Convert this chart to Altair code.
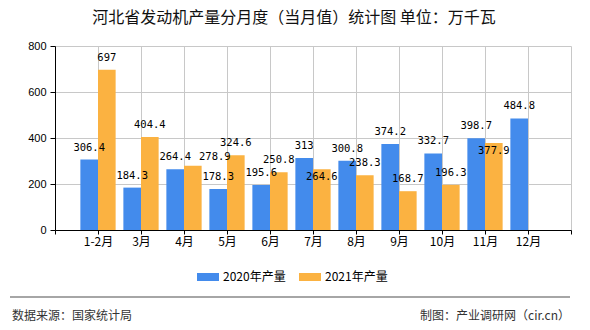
import altair as alt
import pandas as pd

# ---- data ----
months = ["1-2月", "3月", "4月", "5月", "6月", "7月", "8月", "9月", "10月", "11月", "12月"]
series_names = ["2020年产量", "2021年产量"]
v2020 = [306.4, 184.3, 264.4, 178.3, 195.6, 313, 300.8, 374.2, 332.7, 398.7, 484.8]
v2021 = [697, 404.4, 278.9, 324.6, 250.8, 264.6, 238.3, 168.7, 196.3, 377.9, None]
colors = ["#438BEC", "#FBB241"]
y_ticks = [0, 200, 400, 600, 800]

title_text = "河北省发动机产量分月度（当月值）统计图 单位：万千瓦"
source_text = "数据来源：国家统计局"
maker_text = "制图：产业调研网（cir.cn）"

# labels placed differently in the reference (2021 series)
label_below_2021 = ["7月", "11月"]
label_right_2021 = ["4月"]

rows = []
for i, m in enumerate(months):
    rows.append({"month": m, "idx": i + 1, "series": series_names[0], "value": v2020[i]})
    if v2021[i] is not None:
        rows.append({"month": m, "idx": i + 1, "series": series_names[1], "value": v2021[i]})
df = pd.DataFrame(rows)

CJK = "Noto Sans CJK SC"
MONO = "DejaVu Sans Mono"
half = 0.205
GRID = "#c8c8c8"

label_arr = "[" + ",".join("'" + m + "'" for m in months) + "]"
label_expr = f"(datum.value >= 1 && datum.value <= {len(months)}) ? {label_arr}[datum.value - 1] : ''"

base = alt.Chart(df).transform_calculate(
    xc=f"datum.idx + (datum.series == '{series_names[0]}' ? -{half} : {half})"
).transform_calculate(
    x0=f"datum.xc - {half}", x1=f"datum.xc + {half}"
)

xmax = len(months) + 1
xscale = alt.Scale(domain=[0, xmax], nice=False, zero=True, padding=0)
yscale = alt.Scale(domain=[0, 800], nice=False, padding=0)

xaxis = alt.Axis(
    values=list(range(0, xmax + 1)), labelExpr=label_expr, title=None,
    grid=True, gridColor=GRID, gridOpacity=1, gridWidth=1,
    domainColor="#000", tickColor="#000",
    tickSize=4, labelPadding=2, labelFont=CJK, labelFontSize=12, labelColor="#000",
    labelFlush=False, labelOverlap=False)
yaxis = alt.Axis(
    values=y_ticks, title=None, grid=True, gridColor=GRID, gridOpacity=1, gridWidth=1,
    domainColor="#000", tickColor="#000", tickSize=5, labelPadding=4,
    labelFont="Liberation Sans", labelFontSize=11, labelColor="#000")

bars = base.mark_bar(orient="vertical").encode(
    x=alt.X("x0:Q", scale=xscale, axis=xaxis),
    x2="x1:Q",
    y=alt.Y("value:Q", scale=yscale, axis=yaxis),
    y2=alt.datum(0),
    color=alt.Color("series:N", scale=alt.Scale(domain=series_names, range=colors), legend=None),
)

def text_layer(filter_expr, dx, dy):
    return base.transform_filter(filter_expr).mark_text(
        font=MONO, fontSize=10.5, color="#000", baseline="middle", dx=dx, dy=dy
    ).encode(
        x=alt.X("xc:Q", scale=xscale, axis=xaxis),
        y=alt.Y("value:Q", scale=yscale, axis=yaxis),
        text=alt.Text("value:Q", format="")
    )

below_list = "[" + ",".join("'" + m + "'" for m in label_below_2021) + "]"
right_list = "[" + ",".join("'" + m + "'" for m in label_right_2021) + "]"
is2021 = f"datum.series == '{series_names[1]}'"
special = f"({is2021} && (indexof({below_list}, datum.month) >= 0 || indexof({right_list}, datum.month) >= 0))"

labels_main = text_layer(f"!{special}", 0, -12)
labels_below = text_layer(f"{is2021} && indexof({below_list}, datum.month) >= 0", 0, 8)
labels_right = text_layer(f"{is2021} && indexof({right_list}, datum.month) >= 0", 22, -9)

one = alt.InlineData(values=[{}])

title = alt.Chart(one).mark_text(
    font=CJK, fontSize=16, color="#111", align="center", baseline="middle"
).encode(x=alt.value(239), y=alt.value(-28), text=alt.value(title_text))

leg_items = []
for k, (name, col) in enumerate(zip(series_names, colors)):
    x_start = 142 + k * 102
    leg_items.append(alt.Chart(one).mark_rect(color=col).encode(
        x=alt.value(x_start), x2=alt.value(x_start + 22), y=alt.value(227), y2=alt.value(235)))
    leg_items.append(alt.Chart(one).mark_text(
        font=CJK, fontSize=12, color="#000", align="left", baseline="middle"
    ).encode(x=alt.value(x_start + 26), y=alt.value(231), text=alt.value(name)))

footer_line = alt.Chart(one).mark_rule(color="#888", strokeWidth=1.5).encode(
    x=alt.value(-45), x2=alt.value(515), y=alt.value(251))
footer_left = alt.Chart(one).mark_text(
    font=CJK, fontSize=12, color="#333", align="left", baseline="middle"
).encode(x=alt.value(-43), y=alt.value(270), text=alt.value(source_text))
footer_right = alt.Chart(one).mark_text(
    font=CJK, fontSize=12, color="#333", align="right", baseline="middle"
).encode(x=alt.value(515), y=alt.value(270), text=alt.value(maker_text))

chart = alt.layer(
    bars, labels_main, labels_below, labels_right, title, *leg_items,
    footer_line, footer_left, footer_right
).properties(
    width=516, height=184,
    autosize=alt.AutoSizeParams(type="none"),
    padding={"left": 55, "top": 46, "right": 19, "bottom": 100},
    background="white",
).configure_view(stroke=None)

chart.save("out.html", embed_options={"renderer": "svg", "actions": False})
